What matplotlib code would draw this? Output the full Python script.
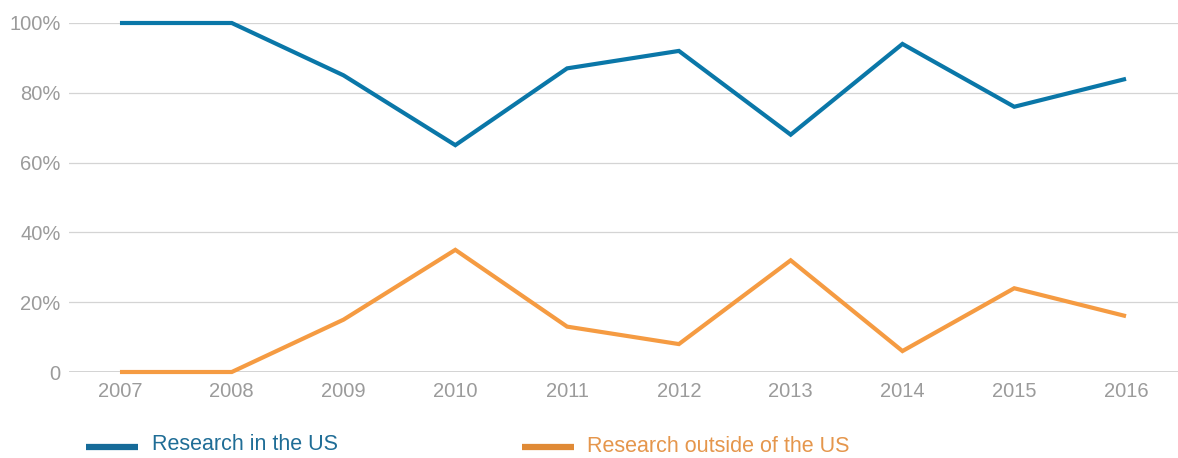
import matplotlib
matplotlib.use("Agg")
import matplotlib.pyplot as plt
from matplotlib.lines import Line2D

plt.rcParams['font.family'] = ['Liberation Sans', 'DejaVu Sans']

years = [2007, 2008, 2009, 2010, 2011, 2012, 2013, 2014, 2015, 2016]
in_us = [100, 100, 85, 65, 87, 92, 68, 94, 76, 84]
outside_us = [0, 0, 15, 35, 13, 8, 32, 6, 24, 16]
y_ticks = [0, 20, 40, 60, 80, 100]
y_labels = ["0", "20%", "40%", "60%", "80%", "100%"]

blue = "#0a77a8"
orange = "#f59b42"
W, H = 1178, 458

fig = plt.figure(figsize=(W / 100, H / 100), dpi=100)
ax = fig.add_axes([69 / W, 1 - 372 / H, 1 - 69 / W, (372 - 23) / H])

ax.plot(years, in_us, color=blue, lw=3, clip_on=False, solid_joinstyle="miter",
        solid_capstyle="butt", zorder=3)
ax.plot(years, outside_us, color=orange, lw=3, clip_on=False, solid_joinstyle="miter",
        solid_capstyle="butt", zorder=3)

ax.set_xlim(2006.544, 2016.465)
ax.set_ylim(0, 100)
ax.set_yticks(y_ticks)
ax.set_yticklabels(y_labels)
ax.set_xticks(years)
ax.set_xticklabels([str(y) for y in years])

for v in y_ticks[1:]:
    ax.axhline(v, color="#d4d4d4", lw=0.9, zorder=1)
ax.axhline(0, color="#cfcfcf", lw=2, zorder=1)

for s in ax.spines.values():
    s.set_visible(False)
ax.tick_params(axis="both", length=0, labelsize=14.5, labelcolor="#9b9b9b")
ax.tick_params(axis="y", pad=6)
ax.tick_params(axis="x", pad=7)

# legend
fig.add_artist(Line2D([86 / W, 138 / W], [1 - 447 / H] * 2, color="#166b99", lw=4.5,
                      solid_capstyle="butt"))
fig.text(152 / W, 1 - 445 / H, "Research in the US", color="#1f6d96", fontsize=15.5, va="center")
fig.add_artist(Line2D([522 / W, 574 / W], [1 - 447 / H] * 2, color="#e08a36", lw=4.5,
                      solid_capstyle="butt"))
fig.text(587 / W, 1 - 447 / H, "Research outside of the US", color="#e5964c", fontsize=15.5, va="center")

fig.savefig("out.png", dpi=100)
